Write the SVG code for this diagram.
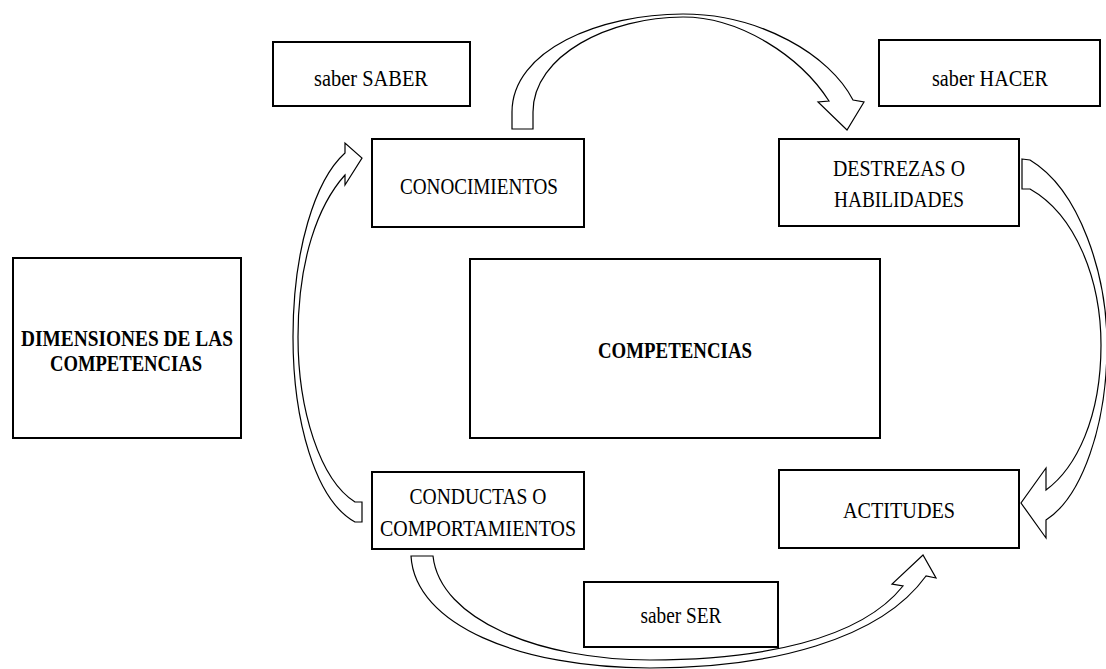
<svg xmlns="http://www.w3.org/2000/svg" width="1106" height="669" viewBox="0 0 1106 669">
<style>
.box{fill:#fff;stroke:#000;stroke-width:2}
.arr{fill:#fff;stroke:#000;stroke-width:1.2;stroke-linejoin:miter}
text{font-family:"Liberation Serif","Times New Roman",serif;font-size:23px;fill:#000;text-anchor:middle}
.b{font-weight:bold;font-size:23px}
</style>
<rect width="1106" height="669" fill="#fff"/>
<g id="connectors">
<path class="arr" d="M 512 129 L 512 112 C 512 50 600 14 683 14 C 760 14 830 55 853 100 L 864 102 L 847 130 L 818 102 L 829 101 C 800 56 740 17 683 17 C 610 17 533 55 533 112 L 533 129 Z"/>
<path class="arr" d="M 1022 159 L 1030 160 C 1080 190 1107 275 1107 345 C 1107 425 1082 497 1046 520 L 1046 538 L 1021 503 L 1046 468 L 1046 490 C 1076 468 1101 418 1101 345 C 1101 280 1076 215 1030 189 L 1022 189 Z"/>
<path class="arr" d="M 362 522 L 355 522 C 315 500 293 420 293 337 C 293 250 315 180 345 153 L 345 143 L 362 158 L 345 185 L 345 175 C 318 205 298 260 298 337 C 298 410 320 480 355 502 L 362 502 Z"/>
<path class="arr" d="M 411 556 L 433 556 C 440 620 540 660 650 660 C 760 660 860 640 903 586 L 892 584 L 923 555 L 936 578 L 926 576 C 880 640 770 668 650 668 C 520 668 415 625 411 556 Z"/>
</g>
<g id="saber-saber"><rect class="box" x="273" y="42" width="197" height="64"/><text x="371" y="86" textLength="114" lengthAdjust="spacingAndGlyphs">saber SABER</text></g>
<g id="saber-hacer"><rect class="box" x="879" y="40" width="221" height="66"/><text x="990" y="86" textLength="116" lengthAdjust="spacingAndGlyphs">saber HACER</text></g>
<g id="conocimientos"><rect class="box" x="372" y="139" width="212" height="88"/><text x="479" y="194" textLength="158" lengthAdjust="spacingAndGlyphs">CONOCIMIENTOS</text></g>
<g id="destrezas"><rect class="box" x="779" y="139" width="240" height="87"/><text x="899" y="176" textLength="132" lengthAdjust="spacingAndGlyphs">DESTREZAS O</text><text x="899" y="207" textLength="130" lengthAdjust="spacingAndGlyphs">HABILIDADES</text></g>
<g id="dimensiones"><rect class="box" x="13" y="258" width="228" height="180"/><text class="b" x="127" y="346" textLength="212" lengthAdjust="spacingAndGlyphs">DIMENSIONES DE LAS</text><text class="b" x="126" y="371" textLength="152" lengthAdjust="spacingAndGlyphs">COMPETENCIAS</text></g>
<g id="competencias"><rect class="box" x="470" y="259" width="410" height="179"/><text class="b" x="675" y="358" textLength="154" lengthAdjust="spacingAndGlyphs">COMPETENCIAS</text></g>
<g id="conductas"><rect class="box" x="372" y="472" width="212" height="77"/><text x="478" y="504" textLength="137" lengthAdjust="spacingAndGlyphs">CONDUCTAS O</text><text x="478" y="536" textLength="196" lengthAdjust="spacingAndGlyphs">COMPORTAMIENTOS</text></g>
<g id="actitudes"><rect class="box" x="779" y="470" width="240" height="78"/><text x="899" y="518" textLength="112" lengthAdjust="spacingAndGlyphs">ACTITUDES</text></g>
<g id="saber-ser"><rect class="box" x="584" y="582" width="194" height="65"/><text x="681" y="623" textLength="81" lengthAdjust="spacingAndGlyphs">saber SER</text></g>
</svg>
